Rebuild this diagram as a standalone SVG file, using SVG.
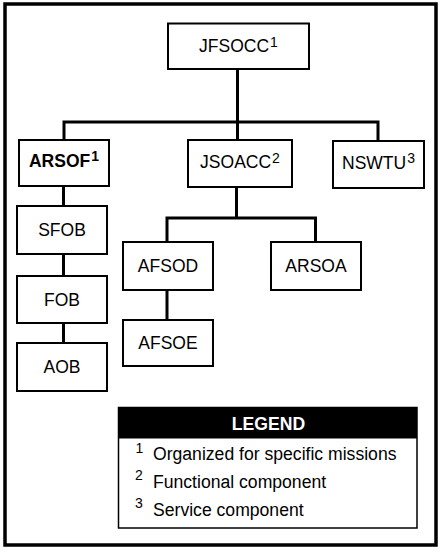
<svg xmlns="http://www.w3.org/2000/svg" width="442" height="556" viewBox="0 0 442 556">
<style>
.box{fill:#fff;stroke:#000;stroke-width:2}
.lbl{font-family:"Liberation Sans",Arial,sans-serif;font-size:17.5px;fill:#000;text-anchor:middle}
.sup{font-size:14px}
.conn{fill:none;stroke:#000;stroke-width:3;stroke-linecap:square}
.leg{font-family:"Liberation Sans",Arial,sans-serif;font-size:17.6px;fill:#000}
</style>
<rect x="0" y="0" width="442" height="556" fill="#fff"/>
<rect x="5" y="4" width="431" height="541" fill="none" stroke="#000" stroke-width="3.5"/>
<g id="connectors">
<path class="conn" d="M237.5,69 V122 M64,122 H378 M64,122 V140 M237.5,122 V140 M378,122 V141"/>
<path class="conn" d="M63.5,186 V343"/>
<path class="conn" d="M236.5,187 V218 M167,218 H315.5 M167,218 V320 M315.5,218 V242"/>
</g>
<g id="JFSOCC"><rect class="box" x="168" y="23.5" width="141" height="45.5"/><text class="lbl" x="238.5" y="52">JFSOCC<tspan class="sup" dx="1" dy="-5.5">1</tspan></text></g>
<g id="ARSOF"><rect class="box" x="19" y="140" width="90" height="46"/><text class="lbl" x="64" y="167" font-weight="bold">ARSOF<tspan class="sup" dx="1" dy="-6">1</tspan></text></g>
<g id="JSOACC"><rect class="box" x="188" y="140" width="104" height="47"/><text class="lbl" x="240" y="168">JSOACC<tspan class="sup" dx="1" dy="-5.5">2</tspan></text></g>
<g id="NSWTU"><rect class="box" x="333" y="141" width="91" height="47"/><text class="lbl" x="378.5" y="168.5">NSWTU<tspan class="sup" dx="1" dy="-5.5">3</tspan></text></g>
<g id="SFOB"><rect class="box" x="17" y="206" width="90" height="48"/><text class="lbl" x="62" y="236">SFOB</text></g>
<g id="FOB"><rect class="box" x="17" y="276" width="90" height="47"/><text class="lbl" x="62" y="305.5">FOB</text></g>
<g id="AOB"><rect class="box" x="17" y="343" width="90" height="48"/><text class="lbl" x="62" y="373">AOB</text></g>
<g id="AFSOD"><rect class="box" x="123" y="242" width="90" height="48"/><text class="lbl" x="168" y="272">AFSOD</text></g>
<g id="ARSOA"><rect class="box" x="271" y="242" width="90" height="48"/><text class="lbl" x="316" y="272">ARSOA</text></g>
<g id="AFSOE"><rect class="box" x="123" y="320" width="90" height="46"/><text class="lbl" x="168" y="349">AFSOE</text></g>
<g id="legend">
<rect x="118.5" y="407.5" width="298.5" height="120.5" fill="#fff" stroke="#000" stroke-width="1.5"/>
<rect x="118.5" y="407.5" width="298.5" height="31" fill="#000"/>
<text class="leg" x="268.5" y="430" text-anchor="middle" font-weight="bold" style="fill:#fff">LEGEND</text>
<text class="leg" x="135.5" y="460"><tspan class="sup" dy="-7.5">1</tspan><tspan x="153" dy="7.5">Organized for specific missions</tspan></text>
<text class="leg" x="135" y="487.5"><tspan class="sup" dy="-7.5">2</tspan><tspan x="153" dy="7.5">Functional component</tspan></text>
<text class="leg" x="135" y="515.5"><tspan class="sup" dy="-7.5">3</tspan><tspan x="153" dy="7.5">Service component</tspan></text>
</g>
</svg>
